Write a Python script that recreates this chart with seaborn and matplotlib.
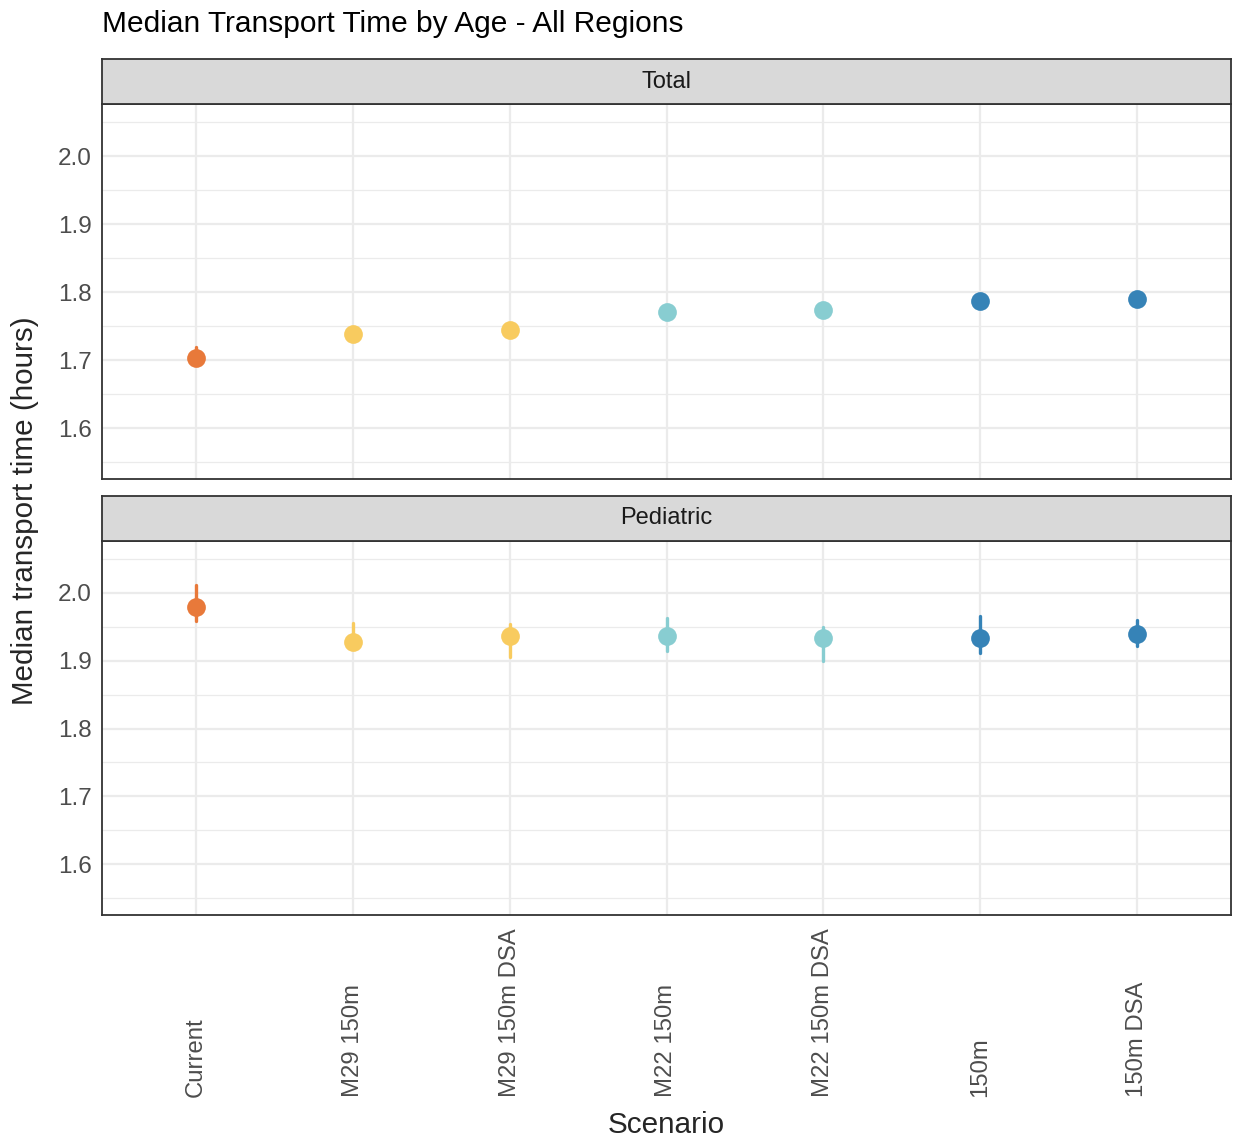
import matplotlib
matplotlib.use("Agg")
import matplotlib.pyplot as plt
import seaborn as sns
import pandas as pd
import numpy as np
from matplotlib.ticker import MultipleLocator

scenarios = ["Current", "M29 150m", "M29 150m DSA", "M22 150m", "M22 150m DSA", "150m", "150m DSA"]
groups = ["Current", "M29", "M29", "M22", "M22", "150m", "150m"]
palette = {"Current": "#E8793A", "M29": "#F8CB5F", "M22": "#88CDD1", "150m": "#3683B7"}

# Total panel: median and interval
total_mid = [1.703, 1.738, 1.744, 1.771, 1.774, 1.787, 1.790]
total_lo = [1.697, 1.733, 1.739, 1.766, 1.769, 1.782, 1.785]
total_hi = [1.719, 1.743, 1.749, 1.776, 1.779, 1.792, 1.795]

# Pediatric panel
ped_mid = [1.979, 1.928, 1.936, 1.937, 1.933, 1.933, 1.940]
ped_lo = [1.958, 1.922, 1.906, 1.914, 1.900, 1.911, 1.921]
ped_hi = [2.012, 1.955, 1.954, 1.963, 1.950, 1.966, 1.960]

def long_df(lo, mid, hi):
    rows = []
    for s, g, a, b, c in zip(scenarios, groups, lo, mid, hi):
        for v in (a, b, c):
            rows.append({"Scenario": s, "Group": g, "Value": v})
    return pd.DataFrame(rows)

sns.set_style("white")
plt.rcParams["font.family"] = ["Liberation Sans", "DejaVu Sans"]

W, H = 1235, 1142
fig = plt.figure(figsize=(W / 100, H / 100), dpi=100)

def fx(px): return px / W
def fy(py): return 1 - py / H

left, right = 102, 1231
panels = [
    ("Total", 59, 104, 479, long_df(total_lo, total_mid, total_hi)),
    ("Pediatric", 496, 541, 915, long_df(ped_lo, ped_mid, ped_hi)),
]

axes = []
for i, (name, s_top, p_top, p_bot, df) in enumerate(panels):
    ax = fig.add_axes([fx(left), fy(p_bot), fx(right - left), (p_bot - p_top) / H])
    sax = fig.add_axes([fx(left), fy(p_top), fx(right - left), (p_top - s_top) / H])
    sax.set_facecolor("#D9D9D9")
    sax.set_xticks([]); sax.set_yticks([])
    for sp in sax.spines.values():
        sp.set_color("#333333"); sp.set_linewidth(1.3)
    sax.text(0.5, 0.5, name, ha="center", va="center", fontsize=17, color="#1A1A1A",
             transform=sax.transAxes)

    ax.set_axisbelow(True)
    sns.pointplot(data=df, x="Scenario", y="Value", hue="Group", order=scenarios,
                  palette=palette, estimator="median", errorbar=("pi", 100),
                  linestyle="none", marker="o", markersize=13.5, markeredgewidth=0,
                  err_kws={"linewidth": 2.4}, legend=False, ax=ax)
    ax.set_xlim(-0.6, 6.6)
    ax.set_ylim(1.525, 2.0765)
    ax.yaxis.set_major_locator(MultipleLocator(0.1))
    ax.yaxis.set_minor_locator(MultipleLocator(0.05))
    ax.set_yticks([1.6, 1.7, 1.8, 1.9, 2.0])
    ax.set_yticklabels(["1.6", "1.7", "1.8", "1.9", "2.0"])
    ax.grid(True, which="major", color="#EBEBEB", linewidth=1.6)
    ax.grid(True, which="minor", axis="y", color="#EBEBEB", linewidth=0.9)
    ax.tick_params(axis="y", which="minor", length=0)
    ax.tick_params(axis="y", which="major", length=5, width=1.2, color="#333333",
                   labelsize=17.5, labelcolor="#4D4D4D", pad=2.5)
    for sp in ax.spines.values():
        sp.set_visible(True); sp.set_color("#333333"); sp.set_linewidth(1.3)
    ax.set_xlabel(""); ax.set_ylabel("")
    if i == 0:
        ax.tick_params(axis="x", length=0, labelbottom=False)
    else:
        ax.tick_params(axis="x", length=5, width=1.2, color="#333333", pad=126,
                       labelsize=17.2, labelcolor="#4D4D4D")
        ax.set_xticks(range(len(scenarios)))
        ax.set_xticklabels(scenarios, rotation=90, ha="left", va="center",
                           rotation_mode="anchor")
    axes.append(ax)

fig.text(fx(102), fy(24), "Median Transport Time by Age - All Regions", fontsize=21.5,
         ha="left", va="center", color="#000000")
fig.text(fx(666), fy(1125), "Scenario", fontsize=21.4, ha="center", va="center")
fig.text(fx(25), fy(511), "Median transport time (hours)", fontsize=21.3, ha="center",
         va="center", rotation=90)

fig.savefig("out.png", dpi=100)
